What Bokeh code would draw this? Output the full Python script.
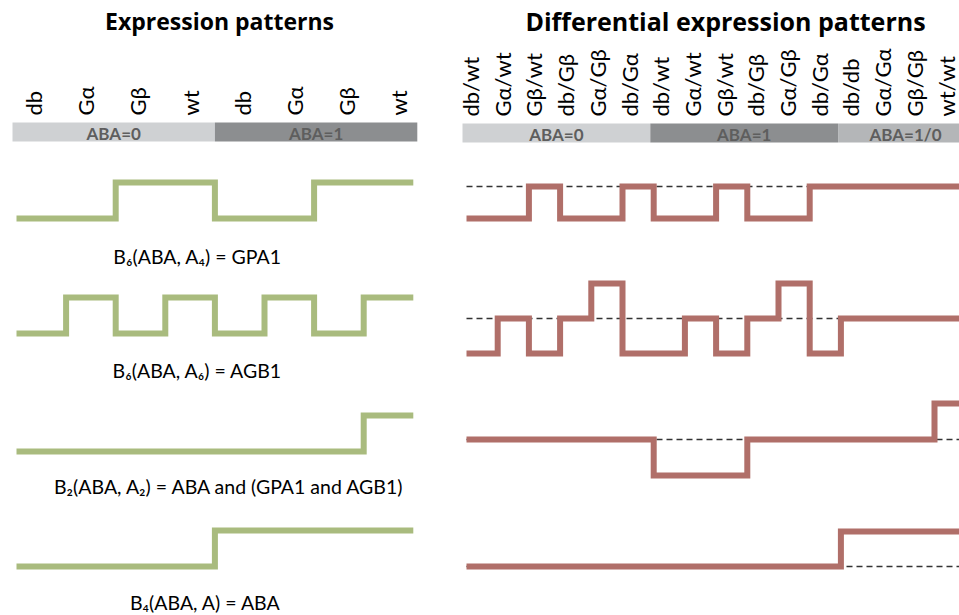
import math
from bokeh.plotting import figure
from bokeh.layouts import row
from bokeh.models import Range1d
from bokeh.core.properties import value
from bokeh.embed import file_html
from bokeh.resources import INLINE

# ---------------- data ----------------
left_title = "Expression patterns"
right_title = "Differential expression patterns"

left_genotypes = ["db", "Gα", "Gβ", "wt", "db", "Gα", "Gβ", "wt"]
left_groups = ["ABA=0", "ABA=1"]
left_group_sizes = [4, 4]

# expression patterns (0 = off, 1 = on) per genotype column
gpa1_expr = [0, 0, 1, 1, 0, 0, 1, 1]
agb1_expr = [0, 1, 0, 1, 0, 1, 0, 1]
b2_expr = [0, 0, 0, 0, 0, 0, 0, 1]
aba_expr = [0, 0, 0, 0, 1, 1, 1, 1]
left_formulas = [
    "B₆(ABA, A₄) = GPA1",
    "B₆(ABA, A₆) = AGB1",
    "B₂(ABA, A₂) = ABA and (GPA1 and AGB1)",
    "B₄(ABA, A) = ABA",
]

right_pairs = ["db/wt", "Gα/wt", "Gβ/wt", "db/Gβ", "Gα/Gβ", "db/Gα",
               "db/wt", "Gα/wt", "Gβ/wt", "db/Gβ", "Gα/Gβ", "db/Gα",
               "db/db", "Gα/Gα", "Gβ/Gβ", "wt/wt"]
right_groups = ["ABA=0", "ABA=1", "ABA=1/0"]
right_group_sizes = [6, 6, 4]

# differential patterns (-1 = lower, 0 = equal, +1 = higher)
gpa1_diff = [-1, -1, 0, -1, -1, 0, -1, -1, 0, -1, -1, 0, 0, 0, 0, 0]
agb1_diff = [-1, 0, -1, 0, 1, -1, -1, 0, -1, 0, 1, -1, 0, 0, 0, 0]
b2_diff = [0, 0, 0, 0, 0, 0, -1, -1, -1, 0, 0, 0, 0, 0, 0, 1]
aba_diff = [0, 0, 0, 0, 0, 0, 0, 0, 0, 0, 0, 0, 1, 1, 1, 1]

# ---------------- style / layout ----------------
FONT = "Lato"
TFONT = "Open Sans"
GREEN = "#a9bb7e"
RED = "#b06f69"
GROUP_COLORS = ["#cfd1d3", "#8c8e90", "#b4b6b8"]
GROUP_TEXT = "#5e5e5e"
H = 615
SPLIT = 453

def make_fig(x0, x1):
    p = figure(width=int(x1 - x0), height=H, output_backend="svg", toolbar_location=None,
               x_range=Range1d(x0, x1), y_range=Range1d(H, 0),
               min_border=0, outline_line_color=None)
    p.axis.visible = False
    p.grid.visible = False
    return p

def step_xy(vals, x0, w, base, amp):
    xs, ys = [], []
    for i, v in enumerate(vals):
        y = base - v * amp
        xs += [x0 + i * w, x0 + (i + 1) * w]
        ys += [y, y]
    return xs, ys

# ---------- left panel ----------
pl = make_fig(0, SPLIT)
pl.text(x=[219], y=[20], text=[left_title], text_font=value(TFONT), text_font_style="bold",
        text_font_size="23px", text_align="center", text_baseline="middle", text_color="#000000")

LX0, LW = 16, 49.6          # column grid of step lines
BX0, BW = 12, 50.6          # column grid of group bars
LAB0, LABW = 33, 52.2       # label grid
for i, g in enumerate(left_genotypes):
    pl.text(x=[LAB0 + i * LABW], y=[115], text=[g], angle=math.pi / 2,
            text_font=value(FONT), text_font_size="22px", text_align="left",
            text_baseline="middle", text_color="#000000")
start = 0
for gi, (g, n) in enumerate(zip(left_groups, left_group_sizes)):
    xl, xr = BX0 + start * BW, BX0 + (start + n) * BW
    pl.quad(left=[xl], right=[xr], top=[122], bottom=[141], fill_color=GROUP_COLORS[gi], line_color=None)
    pl.text(x=[(xl + xr) / 2], y=[132.5], text=[g], text_font=value(FONT), text_font_style="bold",
            text_font_size="17px", text_align="center", text_baseline="middle", text_color=GROUP_TEXT)
    start += n

left_rows = [(gpa1_expr, 218, 256, 197), (agb1_expr, 333, 370, 197),
             (b2_expr, 451, 486, 229), (aba_expr, 566, 602, 205)]
for (vals, base, ty, tx), f in zip(left_rows, left_formulas):
    xs, ys = step_xy(vals, LX0, LW, base, 36)
    pl.line(xs, ys, line_color=GREEN, line_width=6, line_join="miter")
    pl.text(x=[tx], y=[ty], text=[f], text_font=value(FONT), text_font_size="19.5px",
            text_align="center", text_baseline="middle", text_color="#000000")

# ---------- right panel ----------
pr = make_fig(SPLIT, 959)
pr.text(x=[725], y=[20], text=[right_title], text_font=value(TFONT), text_font_style="bold",
        text_font_size="25px", text_align="center", text_baseline="middle", text_color="#000000")

RX0, RW = 466, 31.2
RBX0, RBW = 462, 31.3
RLAB0, RLABW = 470, 31.7
for i, g in enumerate(right_pairs):
    pr.text(x=[RLAB0 + i * RLABW], y=[116], text=[g], angle=math.pi / 2,
            text_font=value(FONT), text_font_size="22px", text_align="left",
            text_baseline="middle", text_color="#000000")
start = 0
for gi, (g, n) in enumerate(zip(right_groups, right_group_sizes)):
    xl, xr = RBX0 + start * RBW, RBX0 + (start + n) * RBW
    pr.quad(left=[xl], right=[xr], top=[123], bottom=[142], fill_color=GROUP_COLORS[gi], line_color=None)
    cx = (xl + xr) / 2 if gi < 2 else 905
    pr.text(x=[cx], y=[133.5], text=[g], text_font=value(FONT), text_font_style="bold",
            text_font_size="17px", text_align="center", text_baseline="middle", text_color=GROUP_TEXT)
    start += n

right_rows = [(gpa1_diff, 186, 32), (agb1_diff, 318, 35), (b2_diff, 439, 36), (aba_diff, 566, 35)]
for vals, base, amp in right_rows:
    x_end = RX0 + len(vals) * RW
    pr.line([RX0, x_end], [base, base], line_color="#333333", line_width=1.5, line_dash="6 4")
    xs, ys = step_xy(vals, RX0, RW, base, amp)
    pr.line(xs, ys, line_color=RED, line_width=6, line_join="miter")

layout = row(pl, pr)
open("out.html", "w").write(file_html(layout, INLINE))
